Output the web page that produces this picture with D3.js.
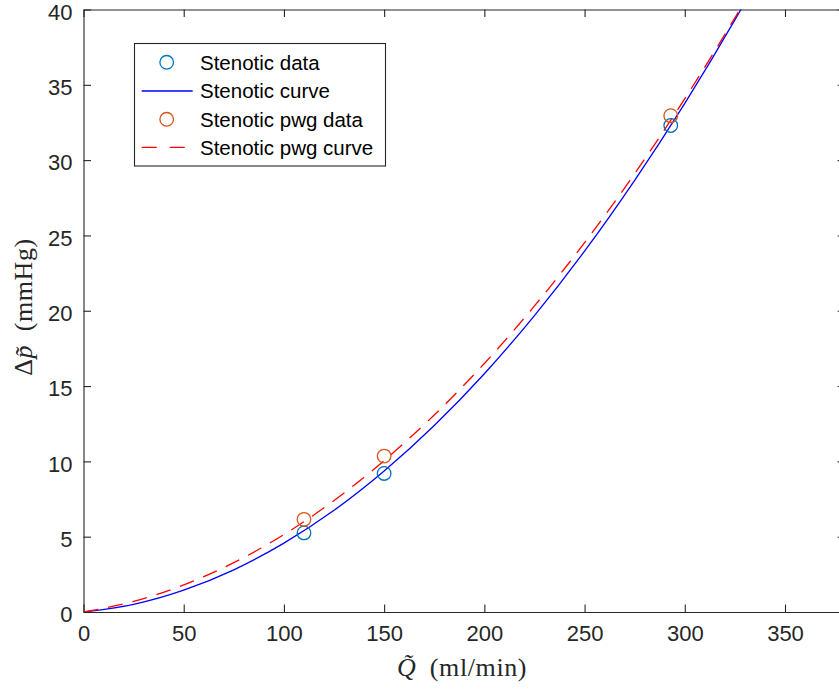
<!DOCTYPE html>
<html>
<head>
<meta charset="utf-8">
<script src="https://cdn.jsdelivr.net/npm/d3@7"></script>
<style>
  html, body { margin: 0; padding: 0; background: #fff; }
  svg { display: block; }
</style>
</head>
<body>
<svg id="chart" width="839" height="689"></svg>
<script>
// Measured flow (ml/min) and pressure drop (mmHg)
const stenoticQ = [110, 150, 293];
const stenoticDp = [5.25, 9.2, 32.3];
const pwgQ = [110, 150, 293];
const pwgDp = [6.15, 10.35, 32.95];

// Fitted curves, sampled along flow
const curveQ = [0, 25, 50, 75, 100, 125, 150, 175, 200, 225, 250, 275, 300, 325, 340];
const stenoticCurveDp = [0, 0.51, 1.45, 2.80, 4.57, 6.75, 9.36, 12.38, 15.82, 19.68, 23.96, 28.66, 33.77, 39.31, 42.85];
const pwgCurveDp = [0, 0.70, 1.80, 3.28, 5.14, 7.40, 10.05, 13.08, 16.50, 20.32, 24.52, 29.10, 34.08, 39.45, 42.85];

const xTicks = [0, 50, 100, 150, 200, 250, 300, 350];
const yTicks = [0, 5, 10, 15, 20, 25, 30, 35, 40];

const legendLabels = ["Stenotic data", "Stenotic curve", "Stenotic pwg data", "Stenotic pwg curve"];

const plotLeft = 83.5, plotTop = 9.5, plotBottom = 612;
const axisColor = "#262626";
const tickLen = 7.5;

const svg = d3.select("#chart");
const x = d3.scaleLinear().domain([0, 380]).range([plotLeft, plotLeft + 380 * (785 - plotLeft) / 350]);
const y = d3.scaleLinear().domain([0, 40]).range([plotBottom, plotTop]);

svg.append("defs").append("clipPath").attr("id", "plotArea")
  .append("rect").attr("x", plotLeft).attr("y", plotTop)
  .attr("width", x(380) - plotLeft).attr("height", plotBottom - plotTop);

// Axes box with inward ticks on all four sides
const fontTick = "'Liberation Sans', Arial, Helvetica, sans-serif";
const xAxisB = d3.axisBottom(x).tickValues(xTicks).tickSizeInner(-tickLen).tickSizeOuter(0).tickPadding(13);
const xAxisT = d3.axisTop(x).tickValues(xTicks).tickSizeInner(-tickLen).tickSizeOuter(0).tickFormat("");
const yAxisL = d3.axisLeft(y).tickValues(yTicks).tickSizeInner(-tickLen).tickSizeOuter(0).tickPadding(11);
const yAxisR = d3.axisRight(y).tickValues(yTicks).tickSizeInner(-tickLen).tickSizeOuter(0).tickFormat("");

function styleAxis(g) {
  g.select(".domain").attr("stroke", axisColor).attr("stroke-width", 1.1);
  g.selectAll(".tick line").attr("stroke", axisColor).attr("stroke-width", 1.1);
  g.selectAll(".tick text").attr("fill", axisColor)
    .style("font-family", fontTick).style("font-size", "22px");
}

svg.append("g").attr("transform", `translate(0,${plotBottom})`).call(xAxisB).call(styleAxis);
svg.append("g").attr("transform", `translate(0,${plotTop})`).call(xAxisT).call(styleAxis);
svg.append("g").attr("transform", `translate(${plotLeft},0)`).call(yAxisL).call(styleAxis)
  .selectAll(".tick text").attr("dy", "0.44em");
svg.append("g").attr("transform", `translate(${x(380)},0)`).call(yAxisR).call(styleAxis);

// Curves
const plot = svg.append("g").attr("clip-path", "url(#plotArea)");
const line = d3.line().x(d => x(d[0])).y(d => y(d[1])).curve(d3.curveMonotoneX);

plot.append("path")
  .datum(curveQ.map((q, i) => [q, stenoticCurveDp[i]]))
  .attr("d", line).attr("fill", "none")
  .attr("stroke", "#0000ff").attr("stroke-width", 1.3);

plot.append("path")
  .datum(curveQ.map((q, i) => [q, pwgCurveDp[i]]))
  .attr("d", line).attr("fill", "none")
  .attr("stroke", "#ff0000").attr("stroke-width", 1.3)
  .attr("stroke-dasharray", "15,10");

// Data markers
const markerR = 6.8;
plot.selectAll(".sten").data(stenoticQ.map((q, i) => [q, stenoticDp[i]]))
  .join("circle").attr("class", "sten")
  .attr("cx", d => x(d[0])).attr("cy", d => y(d[1])).attr("r", markerR)
  .attr("fill", "none").attr("stroke", "#0072bd").attr("stroke-width", 1.3);

plot.selectAll(".pwg").data(pwgQ.map((q, i) => [q, pwgDp[i]]))
  .join("circle").attr("class", "pwg")
  .attr("cx", d => x(d[0])).attr("cy", d => y(d[1])).attr("r", markerR)
  .attr("fill", "none").attr("stroke", "#d95319").attr("stroke-width", 1.3);

// Axis labels
const fontMath = "'Liberation Serif', 'Times New Roman', serif";
const xl = svg.append("text").attr("x", 462).attr("y", 676)
  .attr("text-anchor", "middle").attr("fill", axisColor)
  .style("font-family", fontMath).style("font-size", "26px")
  .style("letter-spacing", "0.6px");
xl.append("tspan").style("font-style", "italic").text("Q\u0303");
xl.append("tspan").text("\u2002(ml/min)");

const yl = svg.append("text")
  .attr("transform", "translate(32,307) rotate(-90)")
  .attr("text-anchor", "middle").attr("fill", axisColor)
  .style("font-family", fontMath).style("font-size", "26px")
  .style("letter-spacing", "0.6px");
yl.append("tspan").text("\u0394");
yl.append("tspan").style("font-style", "italic").text("p\u0303");
yl.append("tspan").text("\u2002(mmHg)");

// Legend
const lg = svg.append("g");
lg.append("rect").attr("x", 134.5).attr("y", 43.5).attr("width", 251).attr("height", 122.5)
  .attr("fill", "#fff").attr("stroke", axisColor).attr("stroke-width", 1.1);
const rowY = [62.3, 91, 119.3, 147.3];
const sampleX0 = 141.7, sampleX1 = 192.7, sampleXm = 166.7;
lg.append("circle").attr("cx", sampleXm).attr("cy", rowY[0]).attr("r", markerR)
  .attr("fill", "none").attr("stroke", "#0072bd").attr("stroke-width", 1.3);
lg.append("line").attr("x1", sampleX0).attr("x2", sampleX1).attr("y1", rowY[1]).attr("y2", rowY[1])
  .attr("stroke", "#0000ff").attr("stroke-width", 1.3);
lg.append("circle").attr("cx", sampleXm).attr("cy", rowY[2]).attr("r", markerR)
  .attr("fill", "none").attr("stroke", "#d95319").attr("stroke-width", 1.3);
lg.append("line").attr("x1", sampleX0).attr("x2", sampleX1).attr("y1", rowY[3]).attr("y2", rowY[3])
  .attr("stroke", "#ff0000").attr("stroke-width", 1.3).attr("stroke-dasharray", "15,13");
lg.selectAll(".lt").data(legendLabels).join("text").attr("class", "lt")
  .attr("x", 200).attr("y", (d, i) => rowY[i] + 7.3)
  .attr("fill", "#000")
  .style("font-family", fontTick).style("font-size", "20.5px")
  .text(d => d);
</script>
</body>
</html>
